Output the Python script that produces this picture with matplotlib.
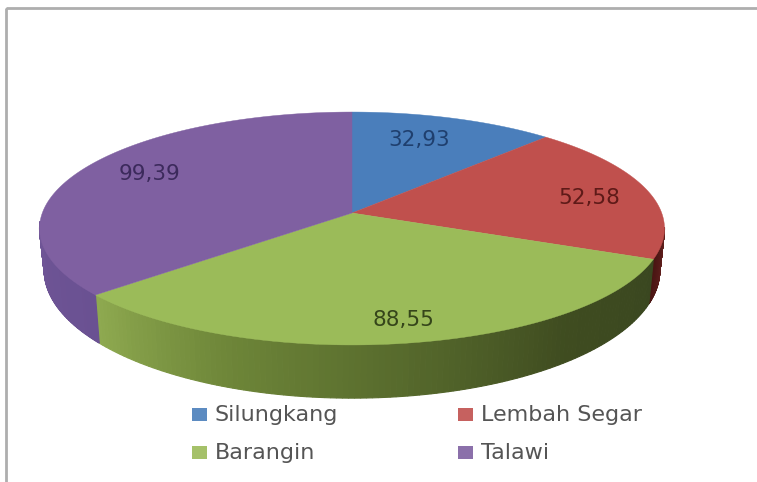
# -*- coding: utf-8 -*-
import numpy as np
from matplotlib import pyplot as plt
from matplotlib.colors import LinearSegmentedColormap
from matplotlib.patches import Rectangle

labels = ['Silungkang', 'Lembah Segar', 'Barangin', 'Talawi']
values = [32.93, 52.58, 88.55, 99.39]
value_labels = ['32,93', '52,58', '88,55', '99,39']
colors = ['#4a7ebb', '#c0504d', '#9bbb59', '#7f60a1']
text_colors = ['#1f3f6e', '#5e1a18', '#35451a', '#3c2a5c']

# fake 3D pie: the circle goes through a perspective projection
cx, cy = 352, 213
rx, ry = 309.7, 114.4
k = 0.133


def top(a):
    u, v = np.sin(a), np.cos(a)
    w = 1 + k * v
    return cx + rx * u / w, cy - ry * v / w


def bottom(a):
    x, y = top(a)
    return cx + (x - cx) * 0.985, 253 + (y - cy) * 1.1


fig = plt.figure(figsize=(7.57, 4.82), dpi=100)
ax = fig.add_axes([0, 0, 1, 1])
ax.set_xlim(0, 757)
ax.set_ylim(482, 0)
ax.axis('off')

# chart border
ax.add_patch(Rectangle((5.5, 8), 760, 490, fill=False, ec='#aeaeae', lw=2))

edges = np.radians(np.cumsum([0] + values) / np.sum(values) * 360)

side_cmaps = [
    None,
    LinearSegmentedColormap.from_list('r', ['#6b2422', '#4a1513']),
    LinearSegmentedColormap.from_list('g', ['#3a4720', '#3f4c20', '#56692c', '#6d8538', '#8faa50']),
    LinearSegmentedColormap.from_list('p', ['#6a5192', '#6f5596']),
]

# side wall, only the part facing the viewer
for i in range(1, 4):
    a0, a1 = edges[i], edges[i + 1]
    a1 = min(a1, np.radians(266))
    a0 = max(a0, np.radians(97))
    steps = np.linspace(a0, a1, 121)
    for j in range(len(steps) - 1):
        s = steps[j:j + 2]
        xt, yt = top(s)
        xb, yb = bottom(s)
        col = side_cmaps[i]((j + 0.5) / 120)
        ax.fill(np.r_[xt, xb[::-1]], np.r_[yt, yb[::-1]], color=col, lw=0.8)

# top face
for i in range(4):
    a = np.linspace(edges[i], edges[i + 1], 200)
    x, y = top(a)
    ax.fill(np.r_[cx, x], np.r_[cy, y], color=colors[i], lw=0.3)

# value labels
label_pos = [(419, 140), (589, 198), (403, 320), (149, 174)]
for txt, col, pos in zip(value_labels, text_colors, label_pos):
    ax.text(pos[0], pos[1], txt, color=col, fontsize=15.5, family='DejaVu Sans',
            ha='center', va='center')

# legend
legend_pos = [(192, 415), (458, 415), (192, 453), (458, 453)]
for lab, col, pos in zip(labels, colors, legend_pos):
    ax.add_patch(Rectangle((pos[0], pos[1] - 7), 15, 13, color=col, alpha=0.9, lw=0))
    ax.text(pos[0] + 23, pos[1], lab, color='#555555', fontsize=16, family='DejaVu Sans',
            ha='left', va='center')

fig.savefig('out.png', dpi=100)
